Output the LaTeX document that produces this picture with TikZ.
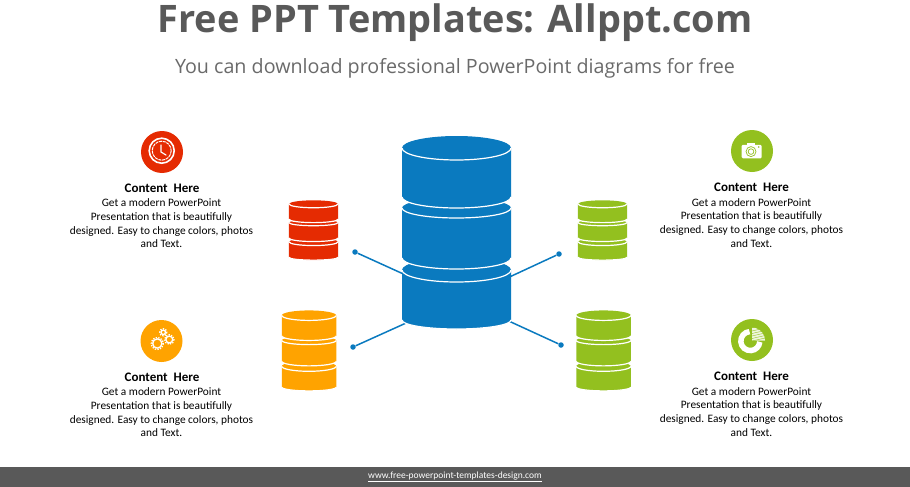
\documentclass[tikz,border=0pt]{standalone}
\usepackage{fontspec}
\setmainfont{Carlito}
\newfontfamily\headfont{Open Sans}
\usepackage{xcolor}
\definecolor{dbblue}{HTML}{0A7ABF}
\definecolor{dbred}{HTML}{E52B02}
\definecolor{dbgreen}{HTML}{93C01F}
\definecolor{dborange}{HTML}{FFA300}
\definecolor{dbgrey}{HTML}{595959}
\tikzset{
    dbstack/.pic={
        \foreach \t/\r/\b/\s in {135/12/185/9, 73/10/123/11, 13/12/62/11} {
            \fill[pic actions] (-54.5,\t) arc[start angle=180,end angle=360,x radius=54.5,y radius=\r]
                -- (54.5,\b) arc[start angle=0,end angle=180,x radius=54.5,y radius=\s] -- cycle;
            \draw[white,line width=1.2pt] (-54.5,\t) arc[start angle=180,end angle=0,x radius=54.5,y radius=\r];
            \draw[white,line width=1.2pt] (54.5,\b) arc[start angle=0,end angle=180,x radius=54.5,y radius=\s];
        }
    },
    iconball/.style={circle,minimum size=42pt,inner sep=0pt},
    blurb/.style={align=center,font=\fontsize{11.35pt}{13.7pt}\selectfont,anchor=north},
    headline/.style={font=\fontsize{13pt}{14pt}\selectfont\bfseries,anchor=north},
    tip/.style={circle,fill=dbblue,inner sep=0pt,minimum size=5.5pt},
    spoke/.style={draw=dbblue,line width=1.5pt}
}
\newcommand{\blurbtext}{Get a modern PowerPoint\\Presentation that is beautifully\\designed. Easy to change colors, photos\\and Text.}
\begin{document}
\begin{tikzpicture}[x=1pt,y=1pt,yscale=-1]
    \useasboundingbox (0,0) rectangle (910,487);

    % title
    \node[font=\fontsize{37.9pt}{40pt}\selectfont\headfont\bfseries,text=dbgrey] (title) at (455,22.5) {Free PPT Templates: Allppt.com};
    \node[font=\fontsize{19.7pt}{22pt}\selectfont\headfont,text=dbgrey!90] (subtitle) at (455,68) {You can download professional PowerPoint diagrams for free};

    % spokes under the big stack
    \node[tip] (tl) at (355,252) {};
    \node[tip] (tr) at (559,254) {};
    \node[tip] (bl) at (353,347) {};
    \node[tip] (br) at (561,345) {};
    \coordinate (hubtl) at (410,277);
    \coordinate (hubtr) at (503,280);
    \coordinate (hubbl) at (415,319);
    \coordinate (hubbr) at (500,317);
    \draw[spoke] (tl) -- (hubtl);
    \draw[spoke] (tr) -- (hubtr);
    \draw[spoke] (bl) -- (hubbl);
    \draw[spoke] (br) -- (hubbr);

    % stacks
    \path (456.5,135) pic[fill=dbblue,yscale=-1] {dbstack};
    \path (313.5,200) pic[fill=dbred,xscale=.45,yscale=-.31] {dbstack};
    \path (602.5,200) pic[fill=dbgreen,xscale=.45,yscale=-.31] {dbstack};
    \path (309,310) pic[fill=dborange,xscale=.5,yscale=-.417] {dbstack};
    \path (603.5,310) pic[fill=dbgreen,xscale=.5,yscale=-.417] {dbstack};

    % icon discs
    \node[iconball,fill=dbred] (clock) at (162,152) {};
    \node[iconball,fill=dborange] (gears) at (161.5,341) {};
    \node[iconball,fill=dbgreen] (camera) at (752,151) {};
    \node[iconball,fill=dbgreen] (chart) at (752,340) {};

    % clock
    \draw[white,line width=1.6pt] (161.7,150.7) circle (12.5);
    \draw[white,line width=1pt,dash pattern=on 3pt off .8pt] (161.7,150.7) circle (9.5);
    \draw[white,line width=1.2pt,line cap=round] (161,145) -- (161,152) -- (166,155);

    % gears
    \foreach \x/\y/\r in {157.3/343.5/4.6, 169.3/339.5/3.4, 163.3/332.3/2.2} {
        \draw[white,line width=1.3pt] (\x,\y) circle (\r);
        \draw[white,line width=1.4pt,dash pattern=on 1.3pt off 1.3pt] (\x,\y) circle (\r+1.3);
    }

    % camera
    \fill[white,rounded corners=1.2pt] (741.7,144.8) rectangle (761.7,158.4);
    \fill[white] (746.5,143.2) rectangle (754.5,145.5);
    \draw[dbgreen,line width=.7pt] (751,151.6) circle (5);
    \draw[dbgreen,line width=.7pt] (751,151.6) circle (2.8);
    \fill[dbgreen] (758.7,147) circle (.8);

    % pie
    \draw[white,line width=5.5pt] (749.5,331.6) arc[start angle=-95,end angle=-355,radius=9.5];
    \fill[white!85!dbgreen] (752,328) -- (752,340.5) -- (765,340.5) arc[start angle=0,end angle=-75,radius=13] -- cycle;
    \foreach \y in {330,332.5,335,337.5,340} {
        \draw[dbgreen,line width=.4pt] (752,\y+1) -- (765,\y-2);
    }

    % labels
    \node[headline] (headtl) at (162,180) {Content\ \ Here};
    \node[blurb] (texttl) at (161.5,195.3) {\blurbtext};
    \node[headline] (headbl) at (162,369) {Content\ \ Here};
    \node[blurb] (textbl) at (161.5,384.3) {\blurbtext};
    \node[headline] (headtr) at (751.5,179.5) {Content\ \ Here};
    \node[blurb] (texttr) at (751.5,194.8) {\blurbtext};
    \node[headline] (headbr) at (751.5,368.5) {Content\ \ Here};
    \node[blurb] (textbr) at (751.5,383.8) {\blurbtext};

    % footer
    \fill[dbgrey] (0,467) rectangle (910,487);
    \node[text=white,font=\fontsize{9.5pt}{11pt}\selectfont] (footer) at (455,477) {\underline{www.free-powerpoint-templates-design.com}};
\end{tikzpicture}
\end{document}
